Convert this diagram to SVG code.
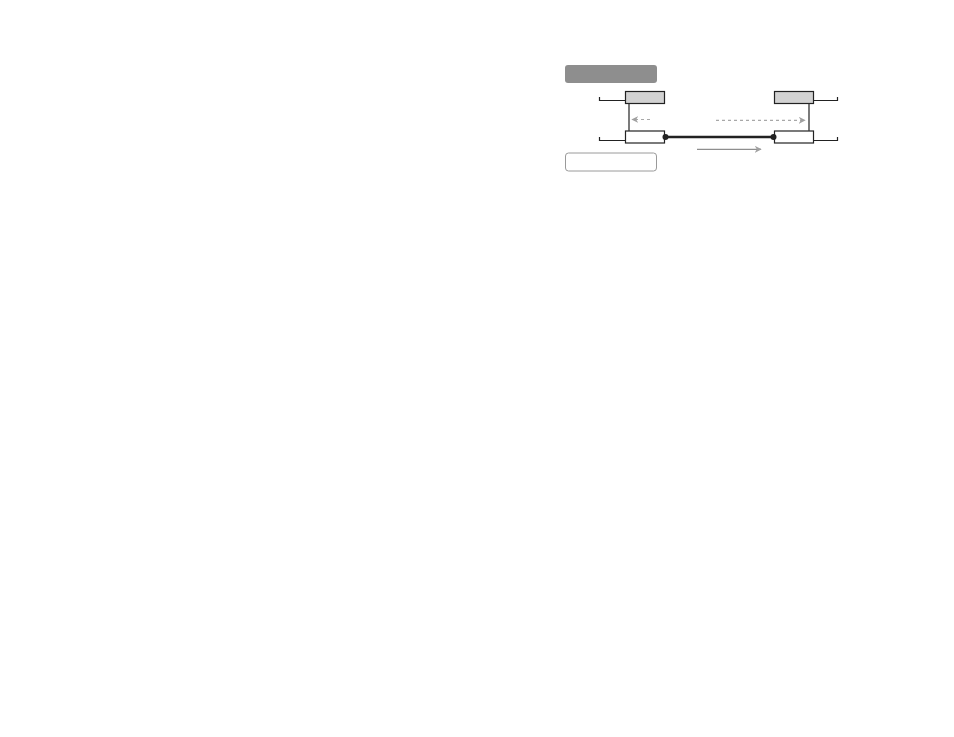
<svg xmlns="http://www.w3.org/2000/svg" width="954" height="737" viewBox="0 0 954 737">
<style>
.box{stroke:#222;stroke-width:1.2}
.top{fill:#d2d2d2}
.bot{fill:#fff}
.br{fill:none;stroke:#222;stroke-width:1.2}
.vl{stroke:#333;stroke-width:1.3}
.dash{fill:none;stroke:#a8a8a8;stroke-width:1.2;stroke-dasharray:3 3}
.solid{fill:none;stroke:#8e8e8e;stroke-width:1.3}
</style>
<defs>
<marker id="ah" viewBox="0 0 10 10" refX="9" refY="5" markerWidth="7" markerHeight="7" markerUnits="userSpaceOnUse" orient="auto">
<path d="M0,0 L10,5 L0,10 L3,5 Z" fill="#a0a0a0"/>
</marker>
</defs>
<rect width="954" height="737" fill="#fff"/>
<g id="header"><rect x="565" y="65" width="92" height="18" rx="3" fill="#8e8e8e"/></g>
<g id="legend"><rect x="565.5" y="153" width="91" height="18" rx="3" fill="#fff" stroke="#9a9a9a" stroke-width="1"/></g>
<g id="node-tl"><rect class="box top" x="625.5" y="91.5" width="39" height="12"/></g>
<g id="node-bl"><rect class="box bot" x="625.5" y="131" width="39" height="12"/></g>
<g id="node-tr"><rect class="box top" x="774.5" y="91.5" width="39" height="12"/></g>
<g id="node-br"><rect class="box bot" x="774.5" y="131" width="39" height="12"/></g>
<g id="connectors">
<line class="vl" x1="629" y1="103.5" x2="629" y2="131"/>
<line class="vl" x1="809" y1="103.5" x2="809" y2="131"/>
<path class="br" d="M599.5,97 V100.5 H625.5"/>
<path class="br" d="M599.5,137 V140.5 H625.5"/>
<path class="br" d="M837.5,97 V100.5 H813.5"/>
<path class="br" d="M837.5,137 V140.5 H813.5"/>
<line x1="666" y1="137" x2="773" y2="137" stroke="#222" stroke-width="2.5"/>
<circle cx="665.5" cy="137" r="3" fill="#222"/>
<circle cx="773.5" cy="137" r="3" fill="#222"/>
<path class="dash" d="M650,119.5 H632" marker-end="url(#ah)"/>
<path class="dash" d="M716,120.3 H805" marker-end="url(#ah)"/>
<path class="solid" d="M697,149.3 H761" marker-end="url(#ah)"/>
</g>
</svg>
